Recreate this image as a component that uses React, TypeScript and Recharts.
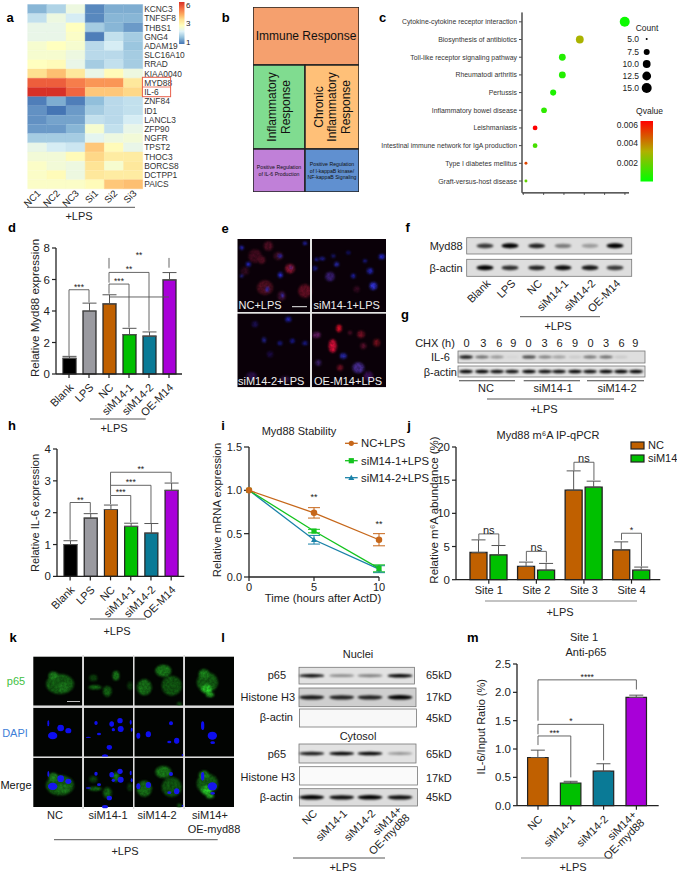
import {
  Bar,
  BarChart,
  Cell,
  ErrorBar,
  Line,
  LineChart,
  ReferenceDot,
  ReferenceLine,
  Scatter,
  ScatterChart,
  Treemap,
  XAxis,
  YAxis,
  ZAxis,
} from 'recharts'

const FONT = '"Liberation Sans", Arial, sans-serif'
const INK = '#222'

// panel a
const heatGenes = ['KCNC3', 'TNFSF8', 'THBS1', 'GNG4', 'ADAM19', 'SLC16A10', 'RRAD', 'KIAA0040', 'MYD88', 'IL-6', 'ZNF84', 'ID1', 'LANCL3', 'ZFP90', 'NGFR', 'TPST2', 'THOC3', 'BORCS8', 'DCTPP1', 'PAICS']
const heatSamples = ['NC1', 'NC2', 'NC3', 'Si1', 'Si2', 'Si3']
const heatValues = [
  [1.6, 2.0, 2.8, 1.1, 1.5, 1.5],
  [2.2, 2.8, 2.4, 1.1, 1.6, 1.6],
  [2.7, 2.7, 3.2, 1.9, 1.6, 1.3],
  [2.7, 2.7, 3.1, 1.0, 2.2, 1.9],
  [3.0, 3.2, 3.0, 2.1, 2.4, 1.8],
  [3.0, 3.0, 2.8, 2.1, 2.1, 1.9],
  [3.2, 3.3, 2.7, 1.9, 2.2, 1.9],
  [4.0, 4.4, 3.8, 2.7, 3.3, 2.8],
  [5.6, 5.6, 5.2, 4.9, 4.9, 3.8],
  [6.2, 6.2, 5.5, 4.3, 4.3, 4.1],
  [1.0, 1.5, 1.0, 1.7, 2.1, 2.2],
  [1.2, 0.9, 1.3, 1.9, 2.1, 2.2],
  [1.2, 1.4, 1.4, 2.2, 2.1, 2.4],
  [1.3, 1.3, 1.6, 3.0, 2.2, 2.7],
  [1.9, 1.9, 1.9, 2.6, 2.8, 2.9],
  [2.7, 2.4, 2.3, 4.3, 3.3, 2.7],
  [2.9, 2.9, 3.3, 4.1, 3.7, 3.7],
  [3.1, 2.9, 2.8, 3.9, 3.0, 3.8],
  [3.1, 3.3, 2.8, 3.8, 3.7, 3.7],
  [3.1, 3.1, 3.1, 3.3, 4.3, 4.4],
]

// panel b
const treeData = [
  { name: 'Immune Response', size: 6148 },
  {
    name: 'rest',
    children: [
      { name: 'Inflammatory Response', size: 4368 },
      { name: 'Chronic Inflammatory Response', size: 4536 },
      { name: 'Positive Regulation of IL-6 Production', size: 2236 },
      { name: 'Positive Regulation of I-kappaB kinase/ NF-kappaB Signaling', size: 2322 },
    ],
  },
]

// panel c
const pathTerms = ['Cytokine-cytokine receptor interaction', 'Biosynthesis of antibiotics', 'Toll-like receptor signaling pathway', 'Rheumatodi arthritis', 'Pertussis', 'Inflammatory bowel disease', 'Leishmaniasis', 'Intestinal immune network for IgA production', 'Type I diabetes mellitus', 'Graft-versus-host disease']
const pathRatio = [4.99, 2.78, 1.92, 1.92, 1.47, 1.02, 0.58, 0.58, 0.13, 0.13]
const pathCount = [15, 11, 9.5, 9.5, 8.5, 8, 7, 7, 5.5, 5.5]
const pathQ = [0.0002, 0.0029, 0.0006, 0.0006, 0.0005, 0.0008, 0.006, 0.0012, 0.0048, 0.0017]

// panels d, h
const groupNames = ['Blank', 'LPS', 'NC', 'siM14-1', 'siM14-2', 'OE-M14']
const groupColors = ['#000000', '#9A9AA0', '#C06000', '#00C000', '#0A7A96', '#A800D8']
const myd88Values = [1.0, 4.0, 4.45, 2.5, 2.4, 5.97]
const myd88Errors = [0.12, 0.5, 0.58, 0.4, 0.27, 0.47]
const il6Values = [1.0, 1.83, 2.1, 1.57, 1.36, 2.7]
const il6Errors = [0.12, 0.14, 0.14, 0.1, 0.3, 0.23]

// panel i
const hours = [0, 5, 10]
const ncStability = [1, 0.74, 0.43]
const ncStabilityErr = [0, 0.06, 0.07]
const si1Stability = [1, 0.53, 0.1]
const si1StabilityErr = [0, 0.02, 0.04]
const si2Stability = [1, 0.43, 0.09]
const si2StabilityErr = [0, 0.05, 0.04]

// panel j
const sites = ['Site 1', 'Site 2', 'Site 3', 'Site 4']
const siteNC = [4.1, 2.0, 13.5, 4.5]
const siteNCErr = [1.9, 0.65, 2.9, 1.2]
const siteSi = [3.75, 1.45, 13.95, 1.45]
const siteSiErr = [1.4, 1.0, 0.9, 0.45]

// panel m
const chipNames = ['NC', 'siM14-1', 'siM14-2', 'siM14+\nOE-myd88']
const chipColors = ['#C06000', '#00C000', '#0A7A96', '#A800D8']
const chipValues = [0.85, 0.4, 0.61, 1.91]
const chipErrors = [0.13, 0.03, 0.13, 0.04]

// western blot band strengths, one per lane
const fMyd88 = [0.75, 1, 0.85, 0.45, 0.3, 1]
const fActin = [1, 0.8, 0.85, 0.95, 0.9, 0.75]
const gIl6 = [0.9, 0.55, 0.35, 0.05, 0.7, 0.45, 0.3, 0.1, 0.5, 0.55, 0.1, 0]
const gActin = [1, 1, 0.95, 0.95, 1, 0.95, 0.95, 1, 0.95, 1, 1, 1]
const lP65Nuc = [0.95, 0.4, 0.45, 1]
const lH3Nuc = [0.9, 0.85, 0.85, 1]
const lEmpty = [0, 0, 0, 0]
const lP65Cyt = [0.9, 1, 1, 0.35]
const lActinCyt = [1, 0.95, 1, 0.95]

const OUT_L = 60
const OUT_T = 14
const OUT_R = 12
const OUT_B = 70

type Plot = { l: number; t: number; r: number; b: number }

const frame = (p: Plot) => ({
  width: p.r - p.l + OUT_L + OUT_R,
  height: p.b - p.t + OUT_T + OUT_B,
  margin: { top: OUT_T, right: OUT_R, bottom: 0, left: 0 },
})

const place = (p: Plot) => ({ position: 'absolute' as const, left: p.l - OUT_L, top: p.t - OUT_T })

const mixStops = (stops: [number, string][], v: number) => {
  const hex = (s: string, i: number) => parseInt(s.slice(1 + i * 2, 3 + i * 2), 16)
  if (v <= stops[0][0]) return stops[0][1]
  for (let i = 1; i < stops.length; i++) {
    if (v <= stops[i][0]) {
      const f = (v - stops[i - 1][0]) / (stops[i][0] - stops[i - 1][0])
      const c = [0, 1, 2].map((k) => Math.round(hex(stops[i - 1][1], k) * (1 - f) + hex(stops[i][1], k) * f))
      return `rgb(${c.join(',')})`
    }
  }
  return stops[stops.length - 1][1]
}

const heatStops: [number, string][] = [
  [0.9, '#4575b4'],
  [1.7, '#91bfdb'],
  [2.5, '#e0f3f8'],
  [3.2, '#ffffbf'],
  [4.0, '#fee090'],
  [4.6, '#fdae61'],
  [5.4, '#f46d43'],
  [6.2, '#d73027'],
]
const qStops: [number, string][] = [
  [0, '#00ff00'],
  [0.003, '#b0b000'],
  [0.006, '#ff0000'],
]

const axisLine = { stroke: INK, strokeWidth: 1.3 }

function SlantTick({ x, y, payload, size = 11 }: any) {
  const lines = String(payload.value).split('\n')
  return (
    <g transform={`translate(${x + 3},${y + 6}) rotate(-45)`}>
      <text textAnchor="end" fontSize={size} fontFamily={FONT} fill={INK}>
        {lines.map((t, i) => (
          <tspan key={t} x={0} dy={i === 0 ? (lines.length > 1 ? -3 : 3) : 11}>
            {t}
          </tspan>
        ))}
      </text>
    </g>
  )
}

type Bracket = { a: any; b: any; top: number; aLow: number; bLow: number; label: string; hideTop?: boolean; size?: number; offset?: number; axis?: string }

// each bracket is three library reference lines, the top one carrying the label
function bracketLines(br: Bracket, i: number) {
  const common: any = { stroke: '#555', strokeWidth: 0.9, ifOverflow: 'visible' }
  if (br.axis) common.xAxisId = br.axis
  return [
    <ReferenceLine
      key={`t${i}`}
      {...common}
      stroke={br.hideTop ? 'none' : '#555'}
      segment={[{ x: br.a, y: br.top }, { x: br.b, y: br.top }]}
      label={{ value: br.label, position: 'top', fontSize: br.size ?? 8.5, fill: INK, fontFamily: FONT, offset: br.offset ?? 0 }}
    />,
    <ReferenceLine key={`a${i}`} {...common} segment={[{ x: br.a, y: br.top }, { x: br.a, y: br.aLow }]} />,
    <ReferenceLine key={`b${i}`} {...common} segment={[{ x: br.b, y: br.top }, { x: br.b, y: br.bLow }]} />,
  ]
}

function SigBars({ plot, names, values, errors, colors, yMax, ticks, brackets, barSize, pad, fmt }: any) {
  const rows = names.map((n: string, i: number) => ({ name: n, value: values[i], err: [0, errors[i]] }))
  return (
    <div style={place(plot)}>
      <BarChart {...frame(plot)} data={rows}>
        <XAxis
          dataKey="name"
          interval={0}
          height={OUT_B}
          axisLine={axisLine}
          tickLine={{ stroke: INK, strokeWidth: 1.2 }}
          tickSize={4}
          padding={pad}
          tick={<SlantTick />}
        />
        <YAxis
          domain={[0, yMax]}
          ticks={ticks}
          width={OUT_L}
          axisLine={axisLine}
          tickLine={{ stroke: INK, strokeWidth: 1.2 }}
          tickSize={4}
          tickFormatter={fmt}
          tick={{ fontSize: 11.5, fill: INK, fontFamily: FONT }}
        />
        <Bar dataKey="value" barSize={barSize} stroke={INK} strokeWidth={1.2} isAnimationActive={false}>
          {colors.map((c: string) => (
            <Cell key={c} fill={c} />
          ))}
          <ErrorBar dataKey="err" direction="y" width={7} stroke="#555" strokeWidth={1} />
        </Bar>
        {brackets.map(bracketLines)}
      </BarChart>
    </div>
  )
}

function HeatPanel() {
  const rows = heatGenes.map((gene) => ({ gene, c0: 1, c1: 1, c2: 1, c3: 1, c4: 1, c5: 1 }))
  return (
    <div style={{ position: 'absolute', left: 0, top: 0 }}>
      <BarChart width={215} height={215} data={rows} layout="vertical" barCategoryGap={0} margin={{ top: 4.5, right: 0, bottom: 0, left: 27.7 }}>
        <XAxis
          type="number"
          domain={[0, 6]}
          ticks={[0.5, 1.5, 2.5, 3.5, 4.5, 5.5]}
          height={26}
          axisLine={false}
          tickLine={false}
          interval={0}
          tick={(p: any) => (
            <g transform={`translate(${p.x + 4},${p.y - 3}) rotate(-45)`}>
              <text textAnchor="end" fontSize={9.5} fontFamily={FONT} fill={INK}>
                {heatSamples[Math.floor(p.payload.value)]}
              </text>
            </g>
          )}
        />
        <YAxis
          type="category"
          dataKey="gene"
          orientation="right"
          width={72.3}
          interval={0}
          axisLine={false}
          tickLine={false}
          tickSize={0}
          tickMargin={1}
          tick={(p: any) => (
            <text x={p.x + 0.5} y={p.y} dominantBaseline="central" fontSize={8.4} fontFamily={FONT} fill="#333">
              {p.payload.value}
            </text>
          )}
        />
        {heatSamples.map((s, j) => (
          <Bar key={s} dataKey={`c${j}`} stackId="h" isAnimationActive={false}>
            {heatValues.map((vals, i) => {
              const fill = mixStops(heatStops, vals[j])
              return <Cell key={heatGenes[i]} fill={fill} stroke={fill} strokeWidth={0.4} />
            })}
          </Bar>
        ))}
      </BarChart>
    </div>
  )
}

const treeColors: Record<string, string> = {
  'Immune Response': '#F5A06E',
  'Inflammatory Response': '#80DC90',
  'Chronic Inflammatory Response': '#FFC078',
  'Positive Regulation of IL-6 Production': '#C080D8',
  'Positive Regulation of I-kappaB kinase/ NF-kappaB Signaling': '#6090D0',
}
const treeLines: Record<string, string[]> = {
  'Immune Response': ['Immune Response'],
  'Inflammatory Response': ['Inflammatory', 'Response'],
  'Chronic Inflammatory Response': ['Chronic', 'Inflammatory', 'Response'],
  'Positive Regulation of IL-6 Production': ['Positive Regulation', 'of IL-6 Production'],
  'Positive Regulation of I-kappaB kinase/ NF-kappaB Signaling': ['Positive Regulation', 'of I-kappaB kinase/', 'NF-kappaB Signaling'],
}

function TreeCell(props: any) {
  const { x, y, width, height, name, children } = props
  if (children || !treeColors[name]) return null
  const lines = treeLines[name]
  const small = name.startsWith('Positive')
  const vertical = name.includes('Inflammatory')
  const size = small ? 5.2 : 12
  const step = small ? 6.8 : 13.5
  const cx = x + width / 2
  const cy = y + height / 2
  return (
    <g>
      <rect x={x} y={y} width={width} height={height} fill={treeColors[name]} stroke="#222" strokeWidth={1.5} />
      <text
        transform={vertical ? `rotate(-90 ${cx} ${cy})` : undefined}
        x={cx}
        y={cy - ((lines.length - 1) * step) / 2}
        textAnchor="middle"
        dominantBaseline="central"
        fontSize={size}
        fontFamily={FONT}
        fill="#111"
      >
        {lines.map((t, i) => (
          <tspan key={t} x={cx} dy={i === 0 ? 0 : step}>
            {t}
          </tspan>
        ))}
      </text>
    </g>
  )
}

function TreePanel() {
  return (
    <div style={{ position: 'absolute', left: 253.3, top: 7.3 }}>
      <Treemap width={106} height={185} data={treeData} dataKey="size" isAnimationActive={false} content={<TreeCell />} />
    </div>
  )
}

function DotPanel() {
  const rows = pathTerms.map((term, i) => ({ term, ratio: pathRatio[i], count: pathCount[i] }))
  const plot = { l: 522, t: 12.85, r: 629, b: 192.7 }
  return (
    <div style={{ position: 'absolute', left: plot.l - 150, top: plot.t - 5 }}>
      <ScatterChart width={plot.r - plot.l + 155} height={plot.b - plot.t + 25} margin={{ top: 5, right: 5, bottom: 0, left: 0 }}>
        <XAxis
          type="number"
          dataKey="ratio"
          domain={[0, 5.2]}
          ticks={[0, 1, 2, 3, 4, 5]}
          height={20}
          padding={{ left: 1.3, right: 0 }}
          axisLine={{ stroke: '#444', strokeWidth: 1.1 }}
          tickLine={{ stroke: '#444' }}
          tickSize={2}
          tickFormatter={() => ''}
        />
        <YAxis
          type="category"
          dataKey="term"
          width={150}
          reversed
          allowDuplicatedCategory={false}
          interval={0}
          padding={{ top: 0, bottom: 3 }}
          axisLine={{ stroke: '#444', strokeWidth: 1.1 }}
          tickLine={{ stroke: '#444' }}
          tickSize={3}
          tick={(p: any) => (
            <text x={p.x} y={p.y} textAnchor="end" dominantBaseline="central" fontSize={6.9} fontFamily={FONT} fill="#333">
              {p.payload.value}
            </text>
          )}
        />
        <ZAxis type="number" dataKey="count" domain={[5, 15]} range={[3, 78]} />
        <Scatter data={rows} isAnimationActive={false}>
          {pathQ.map((q, i) => (
            <Cell key={pathTerms[i]} fill={mixStops(qStops, q)} />
          ))}
        </Scatter>
      </ScatterChart>
    </div>
  )
}

function StabilityPanel() {
  const plot = { l: 249, t: 447.3, r: 379, b: 577.3 }
  const rows = hours.map((h, i) => ({
    h,
    nc: ncStability[i],
    ncE: ncStabilityErr[i],
    s1: si1Stability[i],
    s1E: si1StabilityErr[i],
    s2: si2Stability[i],
    s2E: si2StabilityErr[i],
  }))
  const squareDot = (p: any) => <rect key={p.index} x={p.cx - 2.6} y={p.cy - 2.6} width={5.2} height={5.2} fill="#14C31E" />
  const triDot = (p: any) => <path key={p.index} d={`M${p.cx} ${p.cy - 3}L${p.cx + 3} ${p.cy + 2.2}L${p.cx - 3} ${p.cy + 2.2}Z`} fill="#1A82A8" />
  const star = (x: number, y: number) => (
    <ReferenceDot x={x} y={y} r={0} ifOverflow="visible" label={{ value: '**', fontSize: 9, fill: INK, fontFamily: FONT, position: 'center' }} />
  )
  return (
    <div style={place(plot)}>
      <LineChart {...frame(plot)} data={rows}>
        <XAxis
          type="number"
          dataKey="h"
          domain={[0, 10]}
          ticks={hours}
          height={OUT_B}
          axisLine={axisLine}
          tickLine={{ stroke: INK, strokeWidth: 1.2 }}
          tickSize={4}
          tick={{ fontSize: 11, fill: INK, fontFamily: FONT }}
        />
        <YAxis
          domain={[0, 1.5]}
          ticks={[0, 0.5, 1, 1.5]}
          width={OUT_L}
          axisLine={axisLine}
          tickLine={{ stroke: INK, strokeWidth: 1.2 }}
          tickSize={5}
          tickFormatter={(v: number) => v.toFixed(1)}
          tick={{ fontSize: 11, fill: INK, fontFamily: FONT }}
        />
        <Line dataKey="s2" stroke="#1A82A8" strokeWidth={1.3} dot={triDot} isAnimationActive={false}>
          <ErrorBar dataKey="s2E" direction="y" width={6} stroke="#1A82A8" strokeWidth={1} />
        </Line>
        <Line dataKey="s1" stroke="#14C31E" strokeWidth={1.3} dot={squareDot} isAnimationActive={false}>
          <ErrorBar dataKey="s1E" direction="y" width={6} stroke="#14C31E" strokeWidth={1} />
        </Line>
        <Line dataKey="nc" stroke="#C6671A" strokeWidth={1.3} dot={{ r: 2.6, fill: '#C6671A', stroke: '#C6671A' }} isAnimationActive={false}>
          <ErrorBar dataKey="ncE" direction="y" width={6} stroke="#C6671A" strokeWidth={1} />
        </Line>
        {star(5, 0.92)}
        {star(10, 0.61)}
      </LineChart>
    </div>
  )
}

function SitePanel() {
  const plot = { l: 455.7, t: 447.3, r: 660, b: 580 }
  const rows = sites.map((s, i) => ({ s, pos: i + 0.5, nc: siteNC[i], ncE: [0, siteNCErr[i]], si: siteSi[i], siE: [0, siteSiErr[i]] }))
  const pad = { left: 9, right: 5 }
  const nc = (i: number) => i + 0.29
  const si = (i: number) => i + 0.71
  const siteBrackets: Bracket[] = [
    { a: nc(0), b: si(0), top: 6.9, aLow: 6.1, bLow: 5.2, label: 'ns', size: 11, axis: 'n' },
    { a: nc(1), b: si(1), top: 4.27, aLow: 2.8, bLow: 2.6, label: 'ns', size: 11, axis: 'n' },
    { a: nc(2), b: si(2), top: 17.7, aLow: 16.5, bLow: 15, label: 'ns', size: 11, axis: 'n' },
    { a: nc(3), b: si(3), top: 7.0, aLow: 6.0, bLow: 2.0, label: '*', size: 9, axis: 'n' },
  ]
  return (
    <div style={place(plot)}>
      <BarChart {...frame(plot)} data={rows} barGap={3} barSize={17}>
        <XAxis
          dataKey="s"
          interval={0}
          height={OUT_B}
          padding={pad}
          axisLine={axisLine}
          tickLine={{ stroke: INK, strokeWidth: 1.2 }}
          tickSize={4}
          tick={{ fontSize: 11, fill: INK, fontFamily: FONT }}
        />
        <XAxis xAxisId="n" type="number" dataKey="pos" domain={[0, 4]} allowDataOverflow padding={pad} hide />
        <YAxis
          domain={[0, 20]}
          ticks={[0, 5, 10, 15, 20]}
          width={OUT_L}
          axisLine={axisLine}
          tickLine={{ stroke: INK, strokeWidth: 1.2 }}
          tickSize={4}
          tick={{ fontSize: 11.5, fill: INK, fontFamily: FONT }}
        />
        <Bar dataKey="nc" fill="#C06000" stroke={INK} strokeWidth={1.3} isAnimationActive={false}>
          <ErrorBar dataKey="ncE" direction="y" width={7} stroke="#555" strokeWidth={1} />
        </Bar>
        <Bar dataKey="si" fill="#00C000" stroke={INK} strokeWidth={1.3} isAnimationActive={false}>
          <ErrorBar dataKey="siE" direction="y" width={7} stroke="#555" strokeWidth={1} />
        </Bar>
        {siteBrackets.map(bracketLines)}
      </BarChart>
    </div>
  )
}

function T({ x, y, children, size = 11, anchor = 'middle', rotate, fill = INK, weight }: any) {
  return (
    <text
      x={x}
      y={y}
      fontSize={size}
      fontWeight={weight}
      textAnchor={anchor}
      dominantBaseline="central"
      fontFamily={FONT}
      fill={fill}
      transform={rotate ? `rotate(${rotate} ${x} ${y})` : undefined}
    >
      {children}
    </text>
  )
}

const Rule = ({ x1, x2, y, stroke = '#444', w = 0.9 }: any) => <line x1={x1} x2={x2} y1={y} y2={y} stroke={stroke} strokeWidth={w} />

function Blot({ x, y, w, h, lanes, bands, bw = 17, bh = 4, bg = '#dedede' }: any) {
  return (
    <g>
      <rect x={x} y={y} width={w} height={h} fill={bg} stroke="#777" strokeWidth={0.8} />
      <g filter="url(#bandBlur)">
        {bands.map((b: number, i: number) => (
          <ellipse key={i} cx={lanes[i]} cy={y + h / 2} rx={bw / 2} ry={bh / 2 + b * 0.5} fill="#000" opacity={b} />
        ))}
      </g>
    </g>
  )
}

const fLanes = [485, 510, 536.7, 563, 590, 615]
const gLanes = [466, 482, 497, 512, 529, 545, 559, 575, 590, 606, 621, 636]
const lLanes = [311.7, 341.7, 370, 400]

// zoomed picture coordinates [x, y, rx, ry, colour]
const eBlobs: [number, number, number, number, string][] = [
  [60, 60, 20, 20, '#4a0a22'], [100, 30, 14, 14, '#5a0f28'], [165, 98, 14, 14, '#a01838'], [90, 155, 24, 22, '#5a1024'], [210, 165, 20, 20, '#701028'],
  [80, 72, 11, 11, '#601028'], [130, 60, 14, 12, '#4a1028'], [30, 105, 12, 12, '#360a22'], [140, 180, 12, 14, '#4a1034'],
  [20, 35, 6, 6, '#3030f0'], [40, 85, 7, 7, '#2a2ae0'], [136, 117, 7, 8, '#3030f0'], [97, 160, 5, 8, '#3838f0'], [142, 178, 4, 8, '#3838e0'], [210, 22, 6, 5, '#3030f0'], [168, 95, 4, 4, '#4838d0'], [20, 120, 5, 4, '#3838e0'], [135, 60, 7, 5, '#3030e8'],
  [245, 70, 7, 5, '#2020b8'], [262, 68, 8, 5, '#2828c8'], [305, 85, 7, 7, '#3030d0'], [240, 97, 7, 7, '#2020a8'], [355, 120, 7, 7, '#2424c0'], [405, 105, 9, 9, '#2828c8'], [415, 150, 11, 11, '#3838f0'], [440, 62, 9, 8, '#2828d8'], [285, 122, 14, 14, '#402080'], [295, 60, 6, 5, '#2020a0'], [365, 160, 9, 9, '#400a28'], [390, 75, 6, 5, '#2020b0'], [340, 50, 6, 5, '#1818a0'],
  [160, 250, 9, 8, '#2424c0'], [87, 312, 6, 8, '#2a2ab0'], [135, 322, 7, 6, '#2020b0'], [172, 315, 7, 7, '#2020c0'], [210, 322, 8, 6, '#2020b0'], [60, 265, 9, 9, '#201060'], [105, 355, 9, 9, '#200a50'], [50, 420, 16, 12, '#301050'], [150, 430, 14, 10, '#301040'],
  [312, 277, 8, 11, '#ff1030'], [293, 330, 12, 20, '#f01040'], [245, 297, 12, 9, '#702070'], [378, 295, 11, 11, '#801028'], [425, 320, 10, 11, '#801020'], [345, 290, 6, 6, '#601030'], [385, 330, 9, 9, '#601030'], [250, 380, 9, 9, '#402070'], [370, 395, 18, 16, '#5030a0'], [325, 360, 10, 8, '#3030c8'], [400, 420, 14, 14, '#401060'], [315, 395, 9, 9, '#801028'],
]
const kGreen: [number, number, number, number, string][] = [
  [90, 90, 42, 30, '#156c15'], [70, 65, 14, 12, '#229a22'], [100, 100, 18, 14, '#1f8a1f'],
  [258, 65, 10, 14, '#1c8c1c'], [195, 100, 20, 6, '#1a8a1a'], [232, 112, 13, 16, '#157015'], [190, 72, 12, 10, '#0d4c0d'], [300, 95, 8, 12, '#0c400c'],
  [343, 100, 22, 24, '#1a801a'], [400, 50, 24, 18, '#1c8c1c'], [425, 95, 30, 30, '#126412'],
  [532, 85, 32, 30, '#156c15'], [530, 105, 16, 13, '#30e830'], [522, 60, 16, 14, '#1e941e'], [448, 150, 7, 5, '#187a18'], [540, 122, 12, 7, '#28c028'],
]
const kBlue: [number, number, number, number][] = [
  [68, 245, 14, 11], [92, 222, 10, 10], [115, 230, 9, 8], [55, 208, 3, 9],
  [270, 200, 8, 8], [245, 210, 7, 8], [272, 225, 9, 9], [250, 227, 5, 5], [198, 207, 5, 6], [207, 240, 6, 4], [238, 280, 8, 7], [225, 306, 9, 5], [175, 250, 8, 2], [302, 205, 3, 7], [305, 227, 3, 6],
  [355, 241, 8, 9], [325, 245, 6, 9], [440, 260, 8, 9], [418, 264, 6, 4], [423, 208, 6, 6], [458, 303, 3, 3],
  [518, 215, 5, 13], [547, 245, 14, 12], [548, 266, 7, 4],
]

function GrainFilter({ id, blur }: any) {
  return (
    <filter id={id} x="-5%" y="-5%" width="110%" height="110%" colorInterpolationFilters="sRGB">
      <feGaussianBlur in="SourceGraphic" stdDeviation={blur} result="soft" />
      <feTurbulence type="fractalNoise" baseFrequency="0.4" numOctaves={2} seed={4} result="grain" />
      <feColorMatrix in="grain" type="matrix" values="1 0 0 0 0  1 0 0 0 0  1 0 0 0 0  0 0 0 0 1" result="gray" />
      <feComposite in="soft" in2="gray" operator="arithmetic" k1={0.55} k2={0.5} k3={0} k4={0} />
    </filter>
  )
}

function Scope() {
  const ex = (v: number) => 235 + v / 3
  const ey = (v: number) => 236 + v / 3
  const kx = (v: number) => 30 + v / 3
  const ky = (v: number) => 654 + v / 3
  const cols = [33.3, 84, 134.3, 185]
  const kRows = [656.7, 707.7, 758]
  return (
    <>
      <rect x={237.3} y={239} width={148.7} height={148.3} fill="#0a0008" />
      <g filter="url(#cellBlur)">
        {eBlobs.map((b, i) => (
          <ellipse key={i} cx={ex(b[0])} cy={ey(b[1])} rx={b[2] / 3} ry={b[3] / 3} fill={b[4]} />
        ))}
      </g>
      <rect x={310} y={236} width={2} height={155} fill="#e4e4e4" />
      <rect x={235} y={312} width={154} height={1.7} fill="#e4e4e4" />
      <rect x={235} y={236} width={154} height={3} fill="#fff" />
      <rect x={235} y={387.3} width={154} height={4} fill="#fff" />
      <rect x={235} y={236} width={2.3} height={155} fill="#fff" />
      <rect x={386} y={236} width={4} height={155} fill="#fff" />
      <Rule x1={292} x2={307} y={306.7} stroke="#eee" w={1} />
      <T x={238.5} y={305} size={11} anchor="start" fill="#eee">NC+LPS</T>
      <T x={313.5} y={305} size={11} anchor="start" fill="#eee">siM14-1+LPS</T>
      <T x={238} y={381} size={11} anchor="start" fill="#eee">siM14-2+LPS</T>
      <T x={314} y={381} size={11} anchor="start" fill="#eee">OE-M14+LPS</T>

      {cols.map((x) =>
        kRows.map((y) => <rect key={`${x}${y}`} x={x} y={y} width={49} height={49} fill="#020402" />),
      )}
      <g filter="url(#greenBlur)" clipPath="url(#kClip)">
        {kGreen.map((b, i) => (
          <ellipse key={i} cx={kx(b[0])} cy={ky(b[1])} rx={b[2] / 3} ry={b[3] / 3} fill={b[4]} />
        ))}
        {kGreen.map((b, i) => (
          <ellipse key={i} cx={kx(b[0])} cy={ky(b[1] + 304)} rx={b[2] / 3} ry={b[3] / 3} fill={b[4]} />
        ))}
      </g>
      <g filter="url(#blueBlur)">
        {kBlue.map((b, i) => (
          <ellipse key={i} cx={kx(b[0])} cy={ky(b[1])} rx={b[2] / 3} ry={b[3] / 3} fill="#1010f0" />
        ))}
        {kBlue.map((b, i) => (
          <ellipse key={i} cx={kx(b[0])} cy={ky(b[1] + 152)} rx={b[2] / 3} ry={b[3] / 3} fill="#1818ee" />
        ))}
      </g>
      <rect x={82.3} y={655} width={1.7} height={154} fill="#ddd" />
      <rect x={133} y={655} width={1.3} height={154} fill="#ddd" />
      <rect x={183.4} y={655} width={1.6} height={154} fill="#ddd" />
      <rect x={33} y={705.7} width={201} height={2} fill="#ddd" />
      <rect x={33} y={756.7} width={201} height={1.3} fill="#ddd" />
      <Rule x1={67} x2={80} y={701.5} stroke="#bbb" w={1} />
    </>
  )
}

function Overlay() {
  const letters: [string, number, number][] = [
    ['a', 10, 17], ['b', 225.7, 17], ['c', 382.7, 17], ['d', 12, 227], ['e', 225, 228], ['f', 407.7, 227], ['g', 405, 314],
    ['h', 12, 425], ['i', 223, 425], ['j', 409, 425], ['k', 13, 637], ['l', 223, 637], ['m', 472.7, 637],
  ]
  const chxHours = ['0', '3', '6', '9', '0', '3', '6', '9', '0', '3', '6', '9']
  const chxX = [380, 430, 478, 520, 566, 614, 659, 705, 752, 798, 845, 886]
  const countLegend: [string, number, number][] = [
    ['5.0', 39, 1], ['7.5', 52, 3], ['10.0', 64, 3.9], ['12.5', 76, 4.4], ['15.0', 88, 5],
  ]
  return (
    <svg width={677} height={875} style={{ position: 'absolute', left: 0, top: 0, pointerEvents: 'none' }}>
      <defs>
        <filter id="bandBlur" x="-20%" y="-100%" width="140%" height="300%"><feGaussianBlur stdDeviation="0.9" /></filter>
        <GrainFilter id="cellBlur" blur={1.3} />
        <GrainFilter id="greenBlur" blur={1.2} />
        <filter id="blueBlur" x="-5%" y="-5%" width="110%" height="110%"><feGaussianBlur stdDeviation="0.5" /></filter>
        <clipPath id="kClip"><rect x={33} y={656} width={201} height={152} /></clipPath>
        <linearGradient id="heatBar" x1="0" y1="1" x2="0" y2="0">
          {heatStops.map((s) => (
            <stop key={s[0]} offset={`${((s[0] - 0.9) / 5.3) * 100}%`} stopColor={s[1]} />
          ))}
        </linearGradient>
        <linearGradient id="qBar" x1="0" y1="1" x2="0" y2="0">
          <stop offset="0%" stopColor="#00ff00" />
          <stop offset="50%" stopColor="#b0b000" />
          <stop offset="100%" stopColor="#ff0000" />
        </linearGradient>
      </defs>

      {letters.map(([s, x, y]) => (
        <T key={s} x={x} y={y} size={13} weight="bold" fill="#000">{s}</T>
      ))}

      {/* a */}
      <rect x={142.4} y={77.3} width={28.2} height={19.4} fill="none" stroke="#E8604C" strokeWidth={1} />
      <Rule x1={142.4} x2={170.6} y={87} stroke="#E8604C" w={0.8} />
      <rect x={179} y={2} width={5.5} height={42} fill="url(#heatBar)" />
      <T x={186} y={5} size={8} anchor="start">6</T>
      <T x={186} y={23} size={8} anchor="start">3</T>
      <T x={186} y={42} size={8} anchor="start">1</T>
      <Rule x1={27} x2={135} y={207.3} />
      <T x={79} y={216}>+LPS</T>

      {/* c axis frame and legend */}
      <Rule x1={522} x2={629} y={192.7} stroke="#555" w={0.9} />
      <line x1={522} x2={522} y1={12} y2={192.7} stroke="#555" strokeWidth={0.9} />
      <T x={647} y={28} size={8.5}>Count</T>
      {countLegend.map(([s, y, r]) => (
        <g key={s}>
          <T x={639} y={y} size={8.5} anchor="end">{s}</T>
          <circle cx={646.7} cy={y} r={r} fill="#000" />
        </g>
      ))}
      <T x={663} y={111} size={8.5} anchor="end">Qvalue</T>
      <rect x={640.5} y={121} width={12.5} height={60.5} fill="url(#qBar)" />
      <T x={638} y={124.5} size={8.5} anchor="end">0.006</T>
      <T x={638} y={142.5} size={8.5} anchor="end">0.004</T>
      <T x={638} y={162.5} size={8.5} anchor="end">0.002</T>

      {/* d */}
      <T x={35} y={308} size={11.5} rotate={-90}>Relative Myd88 expression</T>
      <Rule x1={90} x2={145.7} y={419} />
      <T x={114} y={428}>+LPS</T>

      <Scope />

      {/* f */}
      <T x={462.7} y={246} anchor="end">Myd88</T>
      <T x={462.7} y={267.5} anchor="end">β-actin</T>
      <Blot x={466.7} y={237.7} w={165} h={16.3} lanes={fLanes} bands={fMyd88} />
      <Blot x={466.7} y={259.3} w={165} h={17} lanes={fLanes} bands={fActin} />
      {groupNames.map((n, i) => (
        <g key={n} transform={`translate(${fLanes[i] + 4},282) rotate(-45)`}>
          <text textAnchor="end" y={3} fontSize={11} fontFamily={FONT} fill={INK}>{n}</text>
        </g>
      ))}
      <Rule x1={520} x2={600} y={316.7} />
      <T x={558} y={326}>+LPS</T>

      {/* g */}
      <T x={435} y={342.5}>CHX (h)</T>
      {chxHours.map((s, i) => (
        <T key={i} x={340 + chxX[i] / 3} y={342.5}>{s}</T>
      ))}
      <T x={450} y={357} anchor="end">IL-6</T>
      <T x={457} y={372} anchor="end">β-actin</T>
      <Blot x={458} y={351} w={187} h={12} lanes={gLanes} bands={gIl6} bw={14} bh={2.5} />
      <Blot x={458} y={366} w={187} h={11} lanes={gLanes} bands={gActin} bw={14} bh={2.5} bg="#e4e4e4" />
      <Rule x1={459} x2={515} y={380.7} w={1.1} />
      <Rule x1={523.7} x2={580} y={380.7} w={1.1} />
      <Rule x1={587} x2={644} y={380.7} w={1.1} />
      <T x={486} y={388}>NC</T>
      <T x={553} y={388}>siM14-1</T>
      <T x={617} y={388}>siM14-2</T>
      <Rule x1={487} x2={614} y={399} />
      <T x={544} y={409}>+LPS</T>

      {/* h */}
      <T x={35} y={513} rotate={-90}>Relative IL-6 expression</T>
      <Rule x1={90} x2={146} y={619} />
      <T x={117} y={631}>+LPS</T>

      {/* i */}
      <T x={299} y={431}>Myd88 Stability</T>
      <T x={216.7} y={510} size={11.3} rotate={-90}>Relative mRNA expression</T>
      <T x={323} y={597.5} size={11.3}>Time (hours after ActD)</T>
      <Rule x1={345} x2={357.7} y={443.3} stroke="#C6671A" w={1.3} />
      <circle cx={351.3} cy={443.3} r={2.6} fill="#C6671A" />
      <T x={361} y={443.3} size={11.3} anchor="start">NC+LPS</T>
      <Rule x1={345} x2={357.7} y={460.7} stroke="#14C31E" w={1.3} />
      <rect x={348.7} y={458.1} width={5.2} height={5.2} fill="#14C31E" />
      <T x={361} y={460.7} size={11.3} anchor="start">siM14-1+LPS</T>
      <Rule x1={345} x2={357.7} y={477.7} stroke="#1A82A8" w={1.3} />
      <path d="M351.3 474.7L354.3 479.9L348.3 479.9Z" fill="#1A82A8" />
      <T x={361} y={477.7} size={11.3} anchor="start">siM14-2+LPS</T>

      {/* j */}
      <T x={548} y={434.5}>Myd88 m⁶A IP-qPCR</T>
      <T x={434} y={510} size={11.5} rotate={-90}>Relative m⁶A abundance (%)</T>
      <rect x={631} y={442} width={13} height={7} fill="#C06000" stroke={INK} strokeWidth={1.2} />
      <T x={648} y={445} anchor="start">NC</T>
      <rect x={631} y={455} width={13} height={7} fill="#00C000" stroke={INK} strokeWidth={1.2} />
      <T x={648} y={458} anchor="start">siM14</T>
      <Rule x1={485} x2={637} y={601} stroke="#888" w={1.2} />
      <T x={560} y={611.7}>+LPS</T>

      {/* k */}
      <T x={16} y={681} fill="#3FBF3F">p65</T>
      <T x={15} y={733} fill="#3F7FD8">DAPI</T>
      <T x={16} y={785} fill="#111">Merge</T>
      <T x={55} y={815}>NC</T>
      <T x={108} y={815}>siM14-1</T>
      <T x={157} y={815}>siM14-2</T>
      <T x={210} y={815}>siM14+</T>
      <T x={214} y={829}>OE-myd88</T>
      <Rule x1={54} x2={217.7} y={839.7} />
      <T x={125} y={851}>+LPS</T>

      {/* l */}
      <T x={358} y={654}>Nuclei</T>
      <T x={358} y={736}>Cytosol</T>
      <T x={286} y={675} anchor="end">p65</T>
      <T x={295} y={697} anchor="end">Histone H3</T>
      <T x={293} y={717} anchor="end">β-actin</T>
      <T x={286} y={754} anchor="end">p65</T>
      <T x={295} y={777} anchor="end">Histone H3</T>
      <T x={293} y={797} anchor="end">β-actin</T>
      <Blot x={299} y={667.3} w={115.5} h={16.7} lanes={lLanes} bands={lP65Nuc} bw={25} bh={2.5} bg="#e2e2e2" />
      <Blot x={299} y={688} w={117} h={18.7} lanes={lLanes} bands={lH3Nuc} bw={25} bh={3.5} bg="#cfcfcf" />
      <Blot x={299.5} y={709} w={117} h={18} lanes={lLanes} bands={lEmpty} bg="#f8f8f8" />
      <Blot x={299} y={744} w={117} h={19} lanes={lLanes} bands={lP65Cyt} bw={25} bh={2.5} bg="#e2e2e2" />
      <Blot x={299.5} y={766.7} w={118} h={18.3} lanes={lLanes} bands={lEmpty} bg="#fafafa" />
      <Blot x={299.5} y={788.7} w={118} h={17.3} lanes={lLanes} bands={lActinCyt} bw={25} bh={3.5} bg="#dcdcdc" />
      {['65kD', '17kD', '45kD', '65kD', '17kD', '45kD'].map((s, i) => (
        <T key={i} x={426} y={[675, 696.5, 718, 754, 777.5, 797][i]} anchor="start">{s}</T>
      ))}
      {chipNames.map((n, i) => {
        const lines = n.split('\n')
        return (
          <g key={n} transform={`translate(${lLanes[i] + 4},812) rotate(-45)`}>
            <text textAnchor="end" fontSize={11} fontFamily={FONT} fill={INK}>
              {lines.map((t, k) => (
                <tspan key={t} x={0} dy={k === 0 ? (lines.length > 1 ? -2 : 3) : 11}>{t}</tspan>
              ))}
            </text>
          </g>
        )
      })}
      <Rule x1={293} x2={385} y={858} />
      <T x={343} y={867}>+LPS</T>

      {/* m */}
      <T x={584} y={637}>Site 1</T>
      <T x={586} y={652}>Anti-p65</T>
      <T x={480.7} y={726.7} rotate={-90}>IL-6/Input Ratio (%)</T>
      <Rule x1={521} x2={612.7} y={858} stroke="#888" w={1.2} />
      <T x={573} y={867}>+LPS</T>
    </svg>
  )
}

const myd88Brackets: Bracket[] = [
  { a: 'Blank', b: 'LPS', top: 5.35, aLow: 1.15, bLow: 4.55, label: '***' },
  { a: 'NC', b: 'siM14-1', top: 5.71, aLow: 5.1, bLow: 2.95, label: '***' },
  { a: 'NC', b: 'siM14-2', top: 6.45, aLow: 5.8, bLow: 2.75, label: '**' },
  { a: 'NC', b: 'OE-M14', top: 7.37, aLow: 6.7, bLow: 6.75, label: '**', hideTop: true },
  { a: 'NC', b: 'OE-M14', top: 4.89, aLow: 4.89, bLow: 4.89, label: '' },
]
const il6Brackets: Bracket[] = [
  { a: 'Blank', b: 'LPS', top: 2.32, aLow: 1.15, bLow: 2.0, label: '**' },
  { a: 'NC', b: 'siM14-1', top: 2.54, aLow: 2.27, bLow: 1.7, label: '***' },
  { a: 'NC', b: 'siM14-2', top: 2.86, aLow: 2.55, bLow: 1.67, label: '***' },
  { a: 'NC', b: 'OE-M14', top: 3.27, aLow: 2.85, bLow: 2.95, label: '**' },
]
const chipBrackets: Bracket[] = [
  { a: 'NC', b: 'siM14-1', top: 1.23, aLow: 1.07, bLow: 0.5, label: '***' },
  { a: 'NC', b: 'siM14-2', top: 1.435, aLow: 1.26, bLow: 0.8, label: '*' },
  { a: 'NC', b: chipNames[3], top: 2.22, aLow: 1.5, bLow: 2.05, label: '****' },
]

export default function App() {
  return (
    <div style={{ position: 'absolute', left: 0, top: 0, width: 677, height: 875, background: '#fff', overflow: 'hidden', fontFamily: FONT }}>
      <HeatPanel />
      <TreePanel />
      <DotPanel />
      <SigBars
        plot={{ l: 56, t: 247.7, r: 182, b: 373.7 }}
        names={groupNames}
        values={myd88Values}
        errors={myd88Errors}
        colors={groupColors}
        yMax={8}
        ticks={[0, 2, 4, 6, 8]}
        brackets={myd88Brackets}
        barSize={13}
        pad={{ left: 3, right: 3 }}
      />
      <SigBars
        plot={{ l: 56.7, t: 449.3, r: 184, b: 576.7 }}
        names={groupNames}
        values={il6Values}
        errors={il6Errors}
        colors={groupColors}
        yMax={4}
        ticks={[0, 1, 2, 3, 4]}
        brackets={il6Brackets}
        barSize={13}
        pad={{ left: 3, right: 3 }}
      />
      <StabilityPanel />
      <SitePanel />
      <SigBars
        plot={{ l: 517.3, t: 664, r: 659, b: 805.7 }}
        names={chipNames}
        values={chipValues}
        errors={chipErrors}
        colors={chipColors}
        yMax={2.5}
        ticks={[0, 0.5, 1, 1.5, 2, 2.5]}
        brackets={chipBrackets}
        barSize={20.5}
        pad={{ left: 4.6, right: 5.9 }}
        fmt={(v: number) => v.toFixed(1)}
      />
      <Overlay />
    </div>
  )
}
